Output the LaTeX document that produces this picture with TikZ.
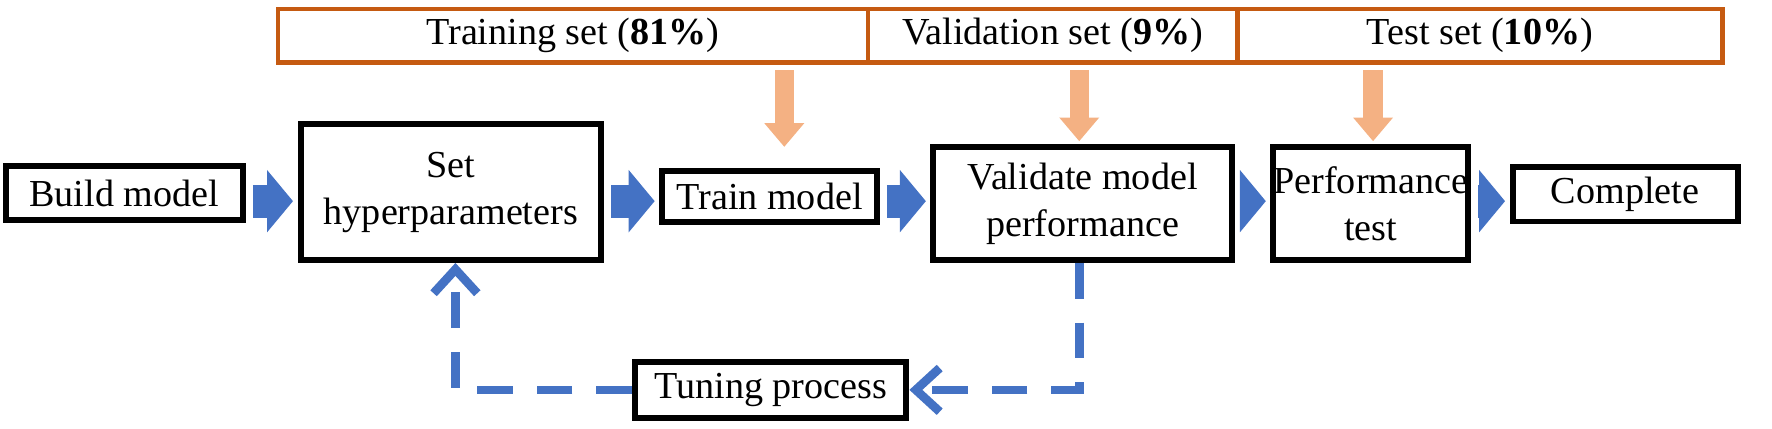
\documentclass[tikz,border=0pt]{standalone}
\usepackage{fontspec}
\setmainfont{Liberation Serif}
\usetikzlibrary{arrows.meta}
\definecolor{borange}{HTML}{C55A11}
\definecolor{lorange}{HTML}{F4B183}
\definecolor{bblue}{HTML}{4472C4}
\begin{document}
\begin{tikzpicture}[x=0.01cm,y=-0.01cm,
 box/.style={draw=black,line width=1.5pt,fill=white,align=center,inner sep=0pt,font=\fontsize{9.6}{11.8}\selectfont},
 lbl/.style={font=\fontsize{9.6}{11.8}\selectfont},
 blk/.style={draw=bblue,line width=0.29cm,-{Triangle[length=0.23cm,width=0.54cm]}},
 ora/.style={draw=lorange,line width=0.17cm,-{Triangle[length=0.21cm,width=0.34cm]}},
 fb/.style={draw=bblue,line width=2.2pt,dash pattern=on 9pt off 6pt,-{Straight Barb[length=6pt,width=11pt]}}]
\useasboundingbox (0,0) rectangle (1568,379);
% top bar
\draw[borange,line width=1.2pt] (246,8) rectangle (1524,55);
\path (246,8) rectangle (768,55) node[pos=.5,lbl] (trs) {Training set (\textbf{81\%})};
\path (768,8) rectangle (1095,55) node[pos=.5,lbl] (vas) {Validation set (\textbf{9\%})};
\path (1095,8) rectangle (1524,55) node[pos=.5,lbl] (tes) {Test set (\textbf{10\%})};
\draw[borange,line width=1.2pt] (768,8) -- (768,55) (1095,8) -- (1095,55);
% boxes
\node[box,minimum width=2.10cm,minimum height=0.48cm] (b1) at (110,171) {Build model};
\node[box,minimum width=2.66cm,minimum height=1.20cm] (b2) at (399,170) {Set\\hyperparameters};
\node[box,minimum width=1.90cm,minimum height=0.45cm] (b3) at (681,174) {Train model};
\node[box,minimum width=2.64cm,minimum height=1.00cm] (b4) at (958,180) {Validate model\\performance};
\node[box,minimum width=1.70cm,minimum height=1.00cm] (b5) at (1213,180) {Performance\\test};
\node[box,minimum width=1.99cm,minimum height=0.48cm] (b6) at (1438,172) {Complete};
\node[box,minimum width=2.40cm,minimum height=0.50cm] (b7) at (682,345) {Tuning process};
% blue block arrows
\coordinate (ya) at (0,178);
\draw[blk,shorten <=0.06cm,shorten >=0.04cm] (b1.east |- ya) -- (b2.west |- ya);
\draw[blk,shorten <=0.06cm,shorten >=0.04cm] (b2.east |- ya) -- (b3.west |- ya);
\draw[blk,shorten <=0.06cm,shorten >=0.04cm] (b3.east |- ya) -- (b4.west |- ya);
\draw[blk,shorten <=0.06cm,shorten >=0.04cm] (b4.east |- ya) -- (b5.west |- ya);
\draw[blk,shorten <=0.06cm,shorten >=0.04cm] (b5.east |- ya) -- (b6.west |- ya);
% orange arrows
\coordinate (t1) at (694,62); \coordinate (e1) at (694,130);
\coordinate (t2) at (955,62); \coordinate (e2) at (955,125);
\coordinate (t3) at (1215,62); \coordinate (e3) at (1215,125);
\draw[ora] (t1) -- (e1);
\draw[ora] (t2) -- (e2);
\draw[ora] (t3) -- (e3);
% dashed feedback
\coordinate (c1) at (955,345);
\coordinate (c2) at (403,345);
\draw[fb] (b4.south -| c1) -- (c1) -- (b7.east);
\draw[fb] (b7.west) -- (c2) -- (c2 |- b2.south);
\end{tikzpicture}
\end{document}
